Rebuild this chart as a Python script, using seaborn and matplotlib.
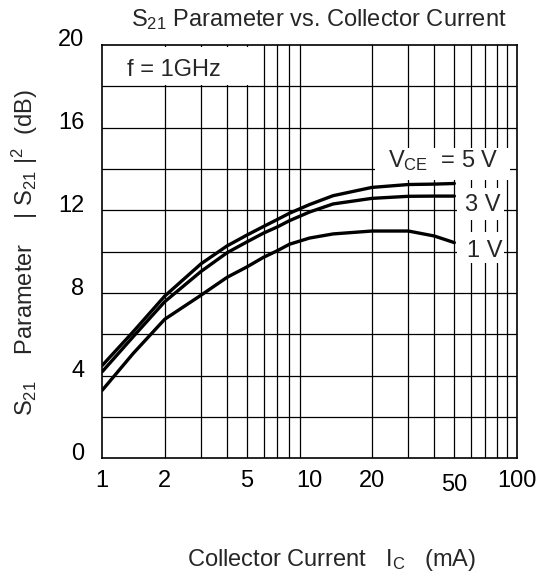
import numpy as np
import pandas as pd
import matplotlib
matplotlib.use("Agg")
import matplotlib.pyplot as plt
from matplotlib.patches import Rectangle
from matplotlib.transforms import ScaledTranslation
import seaborn as sns

# ---- data ----
current_ma = [1, 1.41, 2, 3, 4, 5, 6, 7, 8, 10, 13, 20, 30, 40, 50]
s21_5v = [4.5, 6.13, 7.85, 9.42, 10.28, 10.81, 11.22, 11.56, 11.86, 12.28, 12.71, 13.11, 13.25, 13.27, 13.3]
s21_3v = [4.2, 5.89, 7.58, 9.05, 9.95, 10.48, 10.9, 11.2, 11.5, 11.92, 12.31, 12.58, 12.68, 12.69, 12.69]
s21_1v = [3.3, 5.08, 6.73, 7.9, 8.76, 9.27, 9.73, 10.05, 10.36, 10.66, 10.86, 11.0, 11.0, 10.76, 10.44]
series_labels = ["5 V", "3 V", "1 V"]
x_ticks = [1, 2, 5, 10, 20, 50, 100]
x_ticklabels = ["1", "2", "5", "10", "20", "50", "100"]
y_ticks = [0, 4, 8, 12, 16, 20]

df = pd.concat([
    pd.DataFrame({"Ic": current_ma, "S21": s21_5v, "Vce": series_labels[0]}),
    pd.DataFrame({"Ic": current_ma, "S21": s21_3v, "Vce": series_labels[1]}),
    pd.DataFrame({"Ic": current_ma, "S21": s21_1v, "Vce": series_labels[2]}),
])

sns.set_style("white")
plt.rcParams["font.family"] = ["Liberation Sans", "DejaVu Sans"]
plt.rcParams["mathtext.fontset"] = "custom"
plt.rcParams["mathtext.rm"] = "Liberation Sans"
plt.rcParams["mathtext.default"] = "regular"

FS = 17
fig = plt.figure(figsize=(5.41, 5.73), dpi=100)
W, H = 541, 573
L, R, T, B = 102.3, 516.7, 45.0, 458.4
ax = fig.add_axes([L / W, 1 - B / H, (R - L) / W, (B - T) / H])

sns.lineplot(data=df, x="Ic", y="S21", hue="Vce", palette=["black"] * 3,
             linewidth=2.4, legend=False, ax=ax, zorder=5)

ax.set_xscale("log")
ax.set_xlim(1, 100)
ax.set_ylim(0, 20)

# grid
minor = [m * d for d in (1, 10) for m in range(2, 10)]
for xv in minor:
    ax.axvline(xv, color="black", lw=0.9, zorder=1)
for yv in np.arange(2, 20, 2):
    ax.axhline(yv, color="black", lw=0.9, zorder=1)

ax.set_xticks(x_ticks)
ax.set_xticklabels(x_ticklabels)
ax.xaxis.set_minor_locator(matplotlib.ticker.NullLocator())
ax.set_yticks(y_ticks)
ax.tick_params(axis="both", length=0, labelsize=FS, colors="black")
ax.tick_params(axis="x", pad=8)
ax.tick_params(axis="y", pad=13)
for lab in ax.get_yticklabels():
    lab.set_transform(lab.get_transform() + ScaledTranslation(0, 7 / 100, fig.dpi_scale_trans))
for lab in ax.get_xticklabels():
    if lab.get_text() == "50":
        lab.set_transform(lab.get_transform() + ScaledTranslation(0, -4 / 100, fig.dpi_scale_trans))
ax.set_xlabel("")
ax.set_ylabel("")

for s in ax.spines.values():
    s.set_color("black")
    s.set_linewidth(1.2)
    s.set_zorder(6)

# white boxes behind annotations
box_kw = dict(facecolor="white", edgecolor="none", zorder=3)
ax.add_patch(Rectangle((1.0, 18.05), 5.45 - 1.0, 19.88 - 18.05, **box_kw))
ax.add_patch(Rectangle((20.8, 13.47), 93 - 20.8, 15.01 - 13.47, **box_kw))
ax.add_patch(Rectangle((51.5, 11.53), 87 - 51.5, 13.08 - 11.53, **box_kw))
ax.add_patch(Rectangle((51.5, 9.45), 87 - 51.5, 10.95 - 9.45, **box_kw))

ax.text(1.32, 18.48, "f = 1GHz", fontsize=FS, ha="left", va="baseline", zorder=7)
ax.text(24.0, 14.1, "V$_{CE}$  = 5 V", fontsize=FS, ha="left", va="baseline", zorder=7)
ax.text(56.5, 11.97, "3 V", fontsize=FS, ha="left", va="baseline", zorder=7)
ax.text(57.8, 9.74, "1 V", fontsize=FS, ha="left", va="baseline", zorder=7)

fig.text(319 / W, 1 - 26 / H, "S$_{21}$ Parameter vs. Collector Current",
         fontsize=17, ha="center", va="baseline")
fig.text(332 / W, 1 - 566 / H, "Collector Current   I$_C$   (mA)",
         fontsize=FS, ha="center", va="baseline")
fig.text(25 / W, 1 - 252.5 / H, "S$_{21}$    Parameter    | S$_{21}$ |$^{2}$  (dB)",
         fontsize=FS, ha="center", va="center", rotation=90, rotation_mode="anchor")

fig.savefig("out.png", dpi=100, facecolor="white")
